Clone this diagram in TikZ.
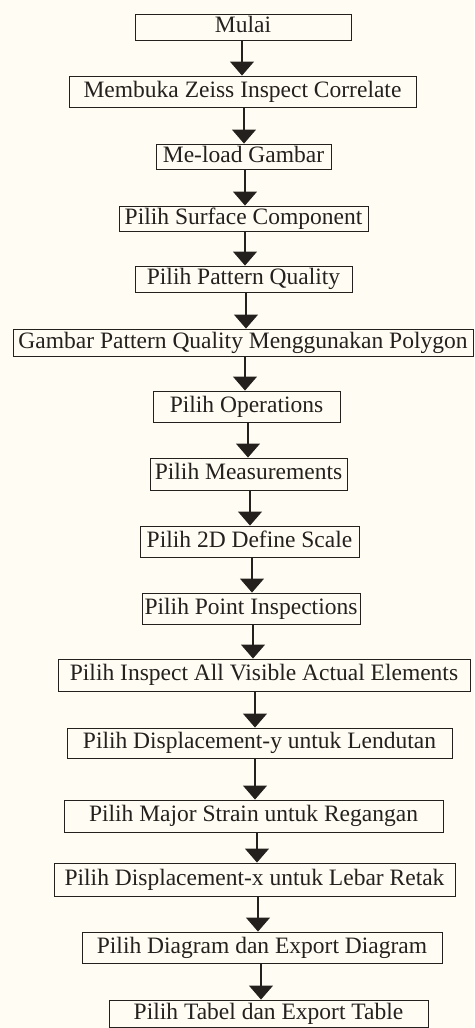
\documentclass[tikz,border=0pt]{standalone}
\usepackage{fontspec}
\setmainfont{Liberation Serif}
\usetikzlibrary{arrows.meta}
\definecolor{bg}{RGB}{255,253,243}
\definecolor{ink}{RGB}{35,32,30}
\newcommand{\flowbox}[6]{%
  \node[box, minimum width={(#4-#2)*1pt}, minimum height={(#5-#3)*1pt}] (#1) at ({(#2+#4)/2},{(#3+#5)/2}) {#6};}
\newcommand{\flowarrow}[3]{%
  \coordinate (x#1#2) at (#3,0);
  \draw[arr] (#1.south -| x#1#2) -- (#2.north -| x#1#2);}
\begin{document}
\begin{tikzpicture}[x=1pt,y=-1pt,
  box/.style={draw=ink, line width=0.9pt, inner sep=0pt, text=ink,
    font=\fontsize{23.5}{26}\selectfont, text height=16pt, text depth=5pt},
  arr/.style={draw=ink, line width=1.1pt, -{Triangle[width=24pt,length=14pt]}}]
\useasboundingbox (0,0) rectangle (474,1028);
\fill[bg] (0,0) rectangle (474,1028);
\flowbox{b1}{135}{14}{351}{40}{Mulai}
\flowbox{b2}{69}{76}{416}{107}{Membuka Zeiss Inspect Correlate}
\flowbox{b3}{156}{144}{331}{169}{Me-load Gambar}
\flowbox{b4}{119}{206}{368}{231}{Pilih Surface Component}
\flowbox{b5}{135}{266}{352}{292}{Pilih Pattern Quality}
\flowbox{b6}{13}{329}{473}{356}{Gambar Pattern Quality Menggunakan Polygon}
\flowbox{b7}{153}{391}{340}{422}{Pilih Operations}
\flowbox{b8}{150}{458}{347}{490}{Pilih Measurements}
\flowbox{b9}{140}{526}{359}{557}{Pilih 2D Define Scale}
\flowbox{b10}{142}{593}{360}{624}{Pilih Point Inspections}
\flowbox{b11}{58}{659}{470}{691}{Pilih Inspect All Visible Actual Elements}
\flowbox{b12}{67}{728}{452}{758}{Pilih Displacement-y untuk Lendutan}
\flowbox{b13}{64}{800}{443}{832}{Pilih Major Strain untuk Regangan}
\flowbox{b14}{54}{863}{455}{896}{Pilih Displacement-x untuk Lebar Retak}
\flowbox{b15}{82}{932}{442}{963}{Pilih Diagram dan Export Diagram}
\flowbox{b16}{109}{1000}{428}{1027}{Pilih Tabel dan Export Table}
\flowarrow{b1}{b2}{242}
\flowarrow{b2}{b3}{244}
\flowarrow{b3}{b4}{245}
\flowarrow{b4}{b5}{245}
\flowarrow{b5}{b6}{246}
\flowarrow{b6}{b7}{245}
\flowarrow{b7}{b8}{248}
\flowarrow{b8}{b9}{250}
\flowarrow{b9}{b10}{252}
\flowarrow{b10}{b11}{253}
\flowarrow{b11}{b12}{255}
\flowarrow{b12}{b13}{255}
\flowarrow{b13}{b14}{257}
\flowarrow{b14}{b15}{258}
\flowarrow{b15}{b16}{261}
\end{tikzpicture}
\end{document}
